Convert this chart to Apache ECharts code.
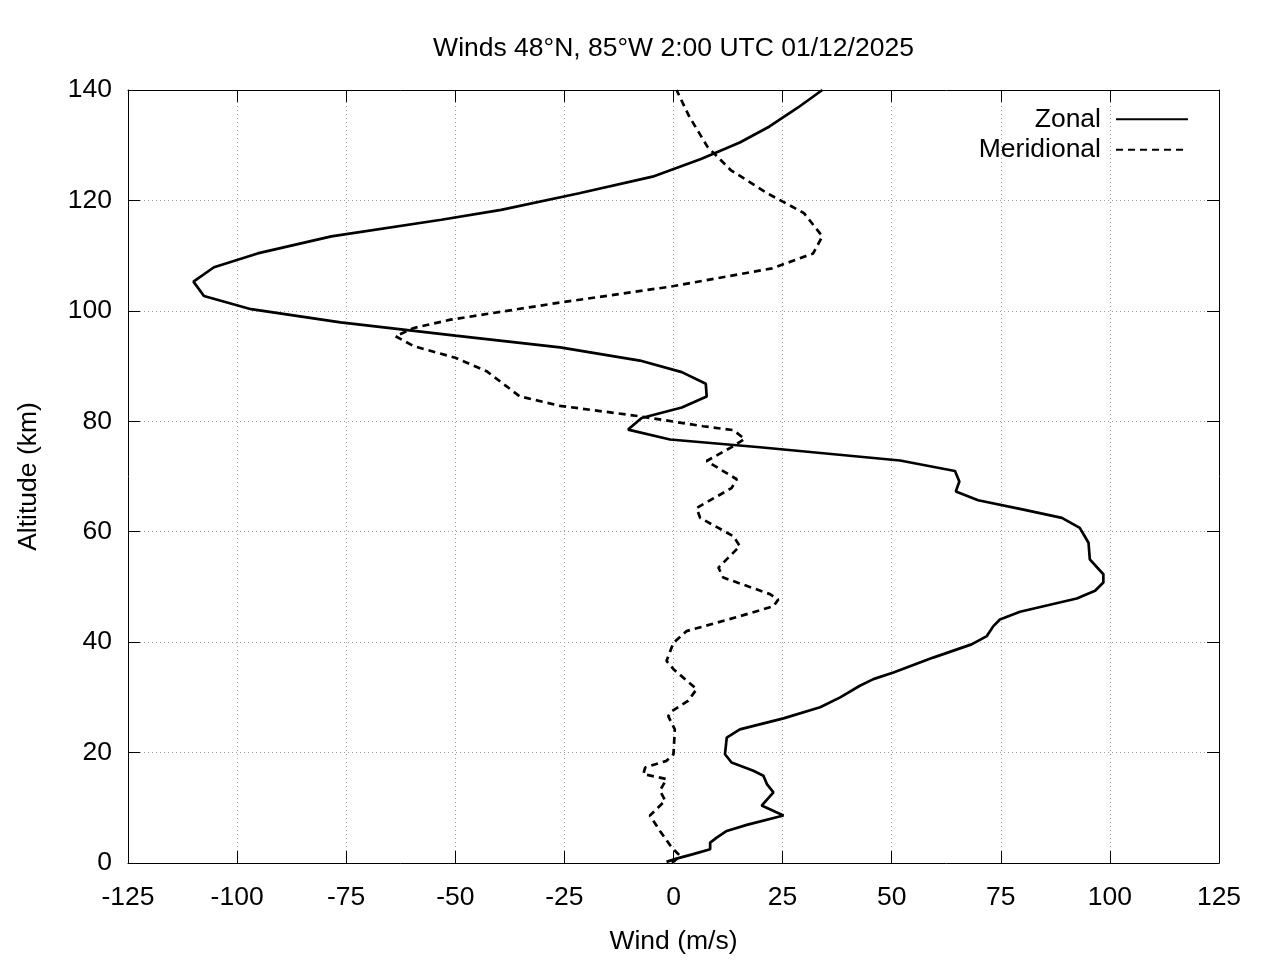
<!DOCTYPE html>
<html>
<head>
<meta charset="utf-8">
<script src="https://cdn.jsdelivr.net/npm/echarts@6/dist/echarts.min.js"></script>
<style>
  html, body { margin: 0; padding: 0; background: #fff; }
  #chart { width: 1280px; height: 960px; }
</style>
</head>
<body>
<div id="chart"></div>
<script>
// altitude (km) and wind (m/s) from bottom to top
const zonalAlt = [0.2, 0.8, 1.6, 2.5, 3.7, 4.6, 5.8, 6.9, 8.6, 10.4, 12.8, 14.3, 15.8, 16.7, 18.2, 19.7, 22.7, 24.2, 26.2, 28.2,
  30.0, 32.1, 33.3, 34.5, 37.2, 39.6, 41.1, 42.9, 44.1, 45.5, 47.9, 49.3, 50.8, 52.3, 55.0, 58.0, 60.7, 62.5, 64.0, 65.7,
  67.3, 69.1, 71.0, 72.9, 75.3, 76.7, 78.5, 80.6, 82.5, 84.5, 86.8, 88.9, 91.0, 93.4, 95.5, 97.9, 100.3, 102.7, 105.3, 107.9,
  110.4, 113.5, 116.5, 118.3, 121.3, 124.3, 127.5, 130.5, 133.4, 136.7, 140];
const zonalWind = [-1.6, 0.7, 4.5, 8.4, 8.4, 9.9, 12.2, 16.8, 25.2, 20.2, 22.9, 21.4, 20.6, 18.3, 13.3, 11.8, 12.2, 15.2, 25.2, 33.6,
  38.2, 42.7, 45.8, 50.4, 59.5, 68.3, 71.8, 73.3, 74.8, 79.4, 92.4, 96.6, 98.5, 98.5, 95.4, 95.1, 93.1, 89.0, 80.2, 69.8,
  64.7, 65.5, 64.5, 51.9, 19.8, -0.8, -10.4, -7.3, 1.9, 7.6, 7.4, 1.9, -7.7, -26.0, -50.0, -76.3, -96.8, -107.6, -110.0, -105.3,
  -95.3, -78.4, -53.2, -39.5, -21.6, -4.8, 6.3, 15.2, 22.0, 28.3, 34.1];

const meridAlt = [0.1, 0.4, 1.3, 2.8, 5.8, 8.6, 11.3, 13.1, 15.2, 16.1, 17.3, 18.5, 19.7, 24.2, 26.6, 27.5, 29.4, 31.5, 35.1, 36.6,
  39.9, 42.0, 44.7, 46.5, 47.7, 48.7, 51.7, 53.5, 57.4, 59.2, 62.5, 64.3, 67.9, 69.5, 72.8, 75.5, 76.8, 78.4, 79.1, 80.9,
  82.8, 84.5, 89.0, 91.5, 93.6, 95.4, 96.9, 98.4, 101.4, 104.4, 107.7, 110.4, 113.5, 117.7, 121.3, 125.5, 129.7, 135.2, 140];
const meridWind = [-0.4, 0.3, 1.5, -0.4, -3.1, -5.4, -1.9, -3.1, -1.6, -6.9, -6.5, -1.6, 0, 0.3, -1.2, -0.4, 3.4, 5.3, 0, -1.6,
  0, 3.0, 15.2, 22.9, 24.0, 22.1, 11.4, 10.3, 15.2, 13.7, 6.1, 5.3, 13.3, 14.5, 7.6, 13.7, 16.3, 13.7, 6.8, -7.7,
  -26.0, -35.2, -42.7, -50.0, -59.5, -63.7, -59.5, -51.1, -26.9, -0.6, 22.6, 32.0, 34.1, 29.9, 21.5, 13.1, 7.8, 3.6, 0.7];

const windTicks = [-125, 125, 25];
const altTicks = [0, 140, 20];

const font = 'Liberation Sans, Arial, sans-serif';
const fs = 26.5;
const chart = echarts.init(document.getElementById('chart'), null, { renderer: 'canvas' });

const tickAxis = (extra) => Object.assign({
  type: 'value',
  axisLine: { show: true, onZero: false, lineStyle: { color: '#000', width: 1 } },
  axisTick: { show: true, inside: true, length: 12, lineStyle: { color: '#000', width: 1 } },
  axisLabel: { show: false },
  splitLine: { show: false }
}, extra);

const option = {
  animation: false,
  backgroundColor: '#fff',
  textStyle: { fontFamily: font, color: '#000' },
  title: {
    text: 'Winds 48°N, 85°W 2:00 UTC 01/12/2025',
    left: 673.5, top: 35, textAlign: 'center', padding: 0,
    textStyle: { fontFamily: font, fontSize: fs, fontWeight: 'normal', color: '#000' }
  },
  legend: {
    orient: 'vertical', right: 91, top: 104, align: 'right', padding: 0,
    itemWidth: 72, itemHeight: 14, itemGap: 0,
    itemStyle: { color: 'transparent', borderWidth: 0 },
    textStyle: { fontFamily: font, fontSize: fs, lineHeight: 30.5, color: '#000', padding: [0, 10, 0, 0] },
    data: ['Zonal', 'Meridional']
  },
  grid: { left: 128, right: 61, top: 90, bottom: 96, containLabel: false },
  xAxis: [
    tickAxis({
      min: windTicks[0], max: windTicks[1], interval: windTicks[2], position: 'bottom',
      name: 'Wind (m/s)', nameLocation: 'middle', nameGap: 65,
      nameTextStyle: { fontFamily: font, fontSize: fs, color: '#000' },
      axisLabel: { show: true, margin: 21, fontFamily: font, fontSize: fs, color: '#000' },
      splitLine: { show: true, lineStyle: { color: '#a0a0a0', width: 1, type: [1, 3] } }
    }),
    tickAxis({ min: windTicks[0], max: windTicks[1], interval: windTicks[2], position: 'top' })
  ],
  yAxis: [
    tickAxis({
      min: altTicks[0], max: altTicks[1], interval: altTicks[2], position: 'left',
      name: 'Altitude (km)', nameLocation: 'middle', nameGap: 86, nameRotate: 90,
      nameTextStyle: { fontFamily: font, fontSize: fs, color: '#000' },
      axisLabel: { show: true, margin: 16, fontFamily: font, fontSize: fs, color: '#000' },
      splitLine: { show: true, lineStyle: { color: '#a0a0a0', width: 1, type: [1, 3] } }
    }),
    tickAxis({ min: altTicks[0], max: altTicks[1], interval: altTicks[2], position: 'right' })
  ],
  series: [
    {
      name: 'Zonal', type: 'line', symbol: 'none', smooth: false,
      xAxisIndex: 0, yAxisIndex: 0,
      lineStyle: { color: '#000', width: 2.7, type: 'solid' },
      itemStyle: { color: '#000' },
      data: zonalAlt.map((a, i) => [zonalWind[i], a])
    },
    {
      name: 'Meridional', type: 'line', symbol: 'none', smooth: false,
      xAxisIndex: 0, yAxisIndex: 0,
      lineStyle: { color: '#000', width: 2.7, type: [7, 5] },
      itemStyle: { color: '#000' },
      data: meridAlt.map((a, i) => [meridWind[i], a])
    }
  ]
};

chart.setOption(option);
</script>
</body>
</html>
